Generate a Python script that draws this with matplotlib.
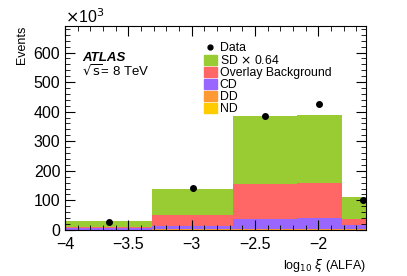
import numpy as np
import matplotlib
matplotlib.use("Agg")
import matplotlib.pyplot as plt
from matplotlib.ticker import MultipleLocator, FuncFormatter
from matplotlib.patches import Patch
from matplotlib.lines import Line2D

plt.rcParams["font.family"] = ["Liberation Sans", "DejaVu Sans"]

# bin edges in log10(xi) and stacked contributions (x10^3 events)
edges = [-4.0, -3.31, -2.67, -2.17, -1.81, -1.50]
nd = [0.5, 0.5, 0.5, 0.5, 0.5]
dd = [0.5, 1.0, 2.0, 4.0, 3.0]
cd = [5, 12, 35, 37, 12]
overlay = [10, 50, 155, 160, 38]
sd = [30, 138, 385, 390, 112]   # totals (top of stack)

data_x = [-3.65, -2.99, -2.42, -1.99, -1.65]
data_y = [27, 142, 386, 425, 102]

colors = {"SD": "#99cc33", "Overlay": "#ff6666", "CD": "#9966ff",
          "DD": "#ff9933", "ND": "#ffcc00"}

fig = plt.figure(figsize=(4.07, 2.76), dpi=100)
ax = fig.add_axes([0.160, 0.167, 0.740, 0.739])

widths = np.diff(edges)
left = np.array(edges[:-1])
nd_a = np.array(nd)
dd_top = nd_a + np.array(dd)
cd_top = dd_top + np.array(cd)
ov_top = np.array(overlay, dtype=float)
sd_top = np.array(sd, dtype=float)

# draw tallest first so each layer covers the next
ax.bar(left, sd_top, width=widths, align="edge", color=colors["SD"], linewidth=0)
ax.bar(left, ov_top, width=widths, align="edge", color=colors["Overlay"], linewidth=0)
ax.bar(left, cd_top, width=widths, align="edge", color=colors["CD"], linewidth=0)
ax.bar(left, dd_top, width=widths, align="edge", color=colors["DD"], linewidth=0)
ax.bar(left, nd_a, width=widths, align="edge", color=colors["ND"], linewidth=0)

ax.plot(data_x, data_y, "o", color="black", markersize=4, zorder=5)

ax.set_xlim(-4, -1.62)
ax.set_ylim(0, 690)
ax.xaxis.set_major_locator(MultipleLocator(0.5))
ax.xaxis.set_minor_locator(MultipleLocator(0.1))
ax.yaxis.set_major_locator(MultipleLocator(100))
ax.yaxis.set_minor_locator(MultipleLocator(20))
ax.xaxis.set_major_formatter(FuncFormatter(lambda v, p: ("%g" % v).replace("-", "\u2212")))
ax.tick_params(which="both", direction="in", top=True, right=True, labelsize=11.5)
ax.tick_params(which="major", length=7)
ax.tick_params(which="minor", length=3.5)
ax.tick_params(axis="x", pad=5)
ax.set_axisbelow(False)

ax.set_xlabel(r"log$_{10}$ $\xi$ (ALFA)", fontsize=9, loc="right")
ax.set_ylabel("Events", fontsize=9, loc="top")
ax.text(0.0, 1.0, r"$\times$10$^{3}$", transform=ax.transAxes, fontsize=11.5,
        ha="left", va="bottom")

ax.text(0.056, 0.83, "ATLAS", transform=ax.transAxes, fontsize=9.5,
        fontweight="bold", fontstyle="italic")
ax.text(0.056, 0.755, r"$\sqrt{\mathrm{s}}$= 8 TeV", transform=ax.transAxes, fontsize=9.5)

handles = [
    Line2D([], [], marker="o", color="black", linestyle="none", markersize=3.5),
    Patch(color=colors["SD"]),
    Patch(color=colors["Overlay"]),
    Patch(color=colors["CD"]),
    Patch(color=colors["DD"]),
    Patch(color=colors["ND"]),
]
labels = ["Data", r"SD $\times$ 0.64", "Overlay Background", "CD", "DD", "ND"]
ax.legend(handles, labels, loc="upper left", bbox_to_anchor=(0.44, 0.95),
          frameon=False, fontsize=8.8, handlelength=1.1, handleheight=0.8,
          handletextpad=0.2, labelspacing=0.0, borderpad=0)

fig.savefig("out.png", dpi=100)
